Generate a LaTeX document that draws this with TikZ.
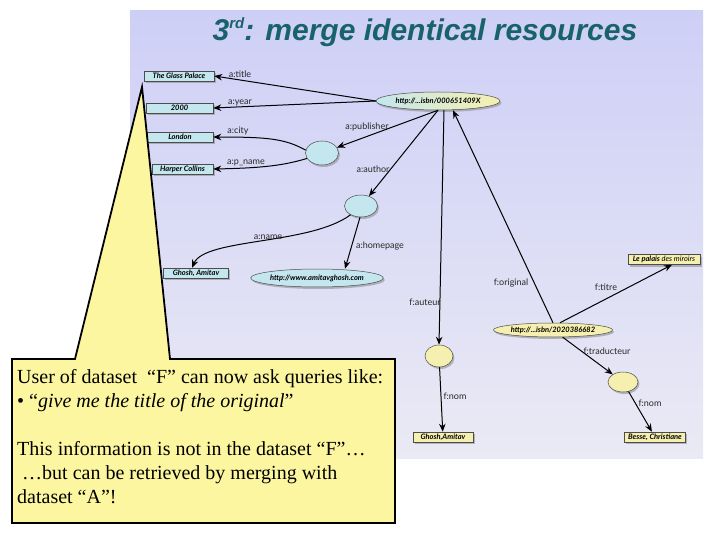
\documentclass[tikz,border=0pt]{standalone}
\usepackage{fontspec}
\setmainfont{Liberation Serif}
\newfontfamily\titlefont{Liberation Sans}
\newfontfamily\gill{Lato}
\usetikzlibrary{shapes.geometric,arrows.meta,shadows}
\definecolor{panelTop}{RGB}{206,207,246}
\definecolor{panelBot}{RGB}{234,234,245}
\definecolor{titlec}{RGB}{24,98,108}
\definecolor{cyanfill}{RGB}{196,230,238}
\definecolor{yelfill}{RGB}{246,240,176}
\definecolor{callfill}{RGB}{253,246,160}
\definecolor{labc}{RGB}{40,40,40}
\begin{document}
\begin{tikzpicture}[x=1pt,y=-1pt,
  shad/.style={drop shadow={shadow xshift=1.5pt,shadow yshift=-2pt,opacity=0.5}},
  box/.style={draw=black!70, line width=0.5pt, inner sep=0pt, minimum height=10pt,
    font=\gill\fontsize{7.5}{8}\selectfont\bfseries\itshape, shad},
  cbox/.style={box, fill=cyanfill},
  ybox/.style={box, fill=yelfill},
  ell/.style={ellipse, draw=black!70, line width=0.5pt, inner sep=0pt, shad,
    font=\gill\fontsize{7.5}{8}\selectfont\bfseries\itshape},
  cell/.style={ell, fill=cyanfill},
  yell/.style={ell, fill=yelfill},
  edge/.style={-{Stealth[length=8pt,width=6.5pt]}, line width=1pt},
  lab/.style={font=\gill\fontsize{9}{10}\selectfont, text=labc, inner sep=0pt},
  ctext/.style={anchor=base west, inner sep=0pt, font=\fontsize{20}{24}\selectfont}
]
\useasboundingbox (0,0) rectangle (720,540);
\fill[white] (0,0) rectangle (720,540);
\shade[top color=panelTop, bottom color=panelBot] (130,11) rectangle (703,458);

\node[font=\titlefont\fontsize{30}{30}\selectfont\bfseries\itshape, text=titlec, anchor=base, inner sep=0pt]
  (title) at (425,41) {3\raisebox{12pt}{\fontsize{15}{15}\selectfont rd}: merge identical resources};

% dataset A
\node[cbox, minimum width=70pt] (glass) at (179,76) {The Glass Palace};
\node[cbox, minimum width=67pt] (y2000) at (179.5,108) {2000};
\node[cbox, minimum width=66pt] (london) at (180,137) {London};
\node[cbox, minimum width=61pt] (harper) at (182.5,169) {Harper Collins};
\node[ell, left color=cyanfill, right color=yelfill, minimum width=124pt, minimum height=18pt]
  (isbnA) at (438,101) {http://...isbn/000651409X};
\node[cell, minimum width=33pt, minimum height=24pt] (pub) at (322,153) {};
\node[cell, minimum width=33pt, minimum height=22pt] (auth) at (361,206) {};
\node[cbox, minimum width=65pt] (ghoshA) at (196,273) {Ghosh, Amitav};
\node[cell, minimum width=113pt, minimum height=18pt] (home) at (317,278) {http://www.amitavghosh.com};

% dataset F
\node[ybox, minimum width=72pt] (palais) at (664,259.5) {Le palais {\mdseries des miroirs}};
\node[yell, minimum width=107pt, minimum height=14pt] (isbnF) at (553,330) {http://...isbn/2020386682};
\node[yell, minimum width=28pt, minimum height=22pt] (faut) at (439,356) {};
\node[yell, minimum width=30pt, minimum height=20pt] (trad) at (623,382) {};
\node[ybox, minimum width=60pt] (ghoshF) at (443,437) {Ghosh,Amitav};
\node[ybox, minimum width=61pt] (besse) at (655,437) {Besse, Christiane};

% edges
\draw[edge] (isbnA.west) -- (glass.east);
\draw[edge] (isbnA.west) -- (y2000.east);
\draw[edge] (isbnA.south) -- (pub);
\draw[edge] (isbnA.south) -- (auth);
\draw[edge] (pub.170) .. controls (285,139) and (270,137) .. (london.east);
\draw[edge] (pub.200) .. controls (285,165) and (265,168) .. (harper.east);
\draw[edge] (auth.220) .. controls (310,245) and (205,238) .. ([xshift=-4pt]ghoshA.north);
\draw[edge] (auth.265) -- ([xshift=28pt]home.north);
\draw[edge] ([xshift=6pt]isbnA.south) -- (faut.north);
\draw[edge] (isbnF.north) -- ([xshift=15pt]isbnA.south);
\draw[edge] ([xshift=7pt]isbnF.north) -- ([xshift=8pt]palais.south);
\draw[edge] (isbnF) -- (trad);
\draw[edge] (faut) -- (ghoshF);
\draw[edge] (trad) -- (besse);

% labels
\node[lab] (ltitle) at (240,74) {a:title};
\node[lab] (lyear) at (240,103) {a:year};
\node[lab] (lcity) at (238,131) {a:city};
\node[lab] (lpname) at (246,163) {a:p\_name};
\node[lab] (lpub) at (367,127) {a:publisher};
\node[lab] (lauth) at (373,169) {a:author};
\node[lab] (lname) at (268,237) {a:name};
\node[lab] (lhome) at (380,246) {a:homepage};
\node[lab] (lfaut) at (425,302) {f:auteur};
\node[lab] (lorig) at (511,283) {f:original};
\node[lab] (ltitre) at (606,287) {f:titre};
\node[lab] (ltrad) at (607,351) {f:traducteur};
\node[lab] (lnom1) at (455,396) {f:nom};
\node[lab] (lnom2) at (650,403) {f:nom};

% callout
\draw[fill=callfill, line width=1.8pt, line join=miter]
  (12,359) -- (75,359) -- (142,87) -- (170,359) -- (395,359) -- (395,523) -- (12,523) -- cycle;
\node[ctext] (c1) at (17,383) {User of dataset\ \ “F” can now ask queries like:};
\node[ctext] (c2) at (17,407) {• “\textit{give me the title of the original}”};
\node[ctext] (c3) at (17,455) {This information is not in the dataset “F”…};
\node[ctext] (c4) at (17,479) {\ …but can be retrieved by merging with};
\node[ctext] (c5) at (17,503) {dataset “A”!};
\end{tikzpicture}
\end{document}
